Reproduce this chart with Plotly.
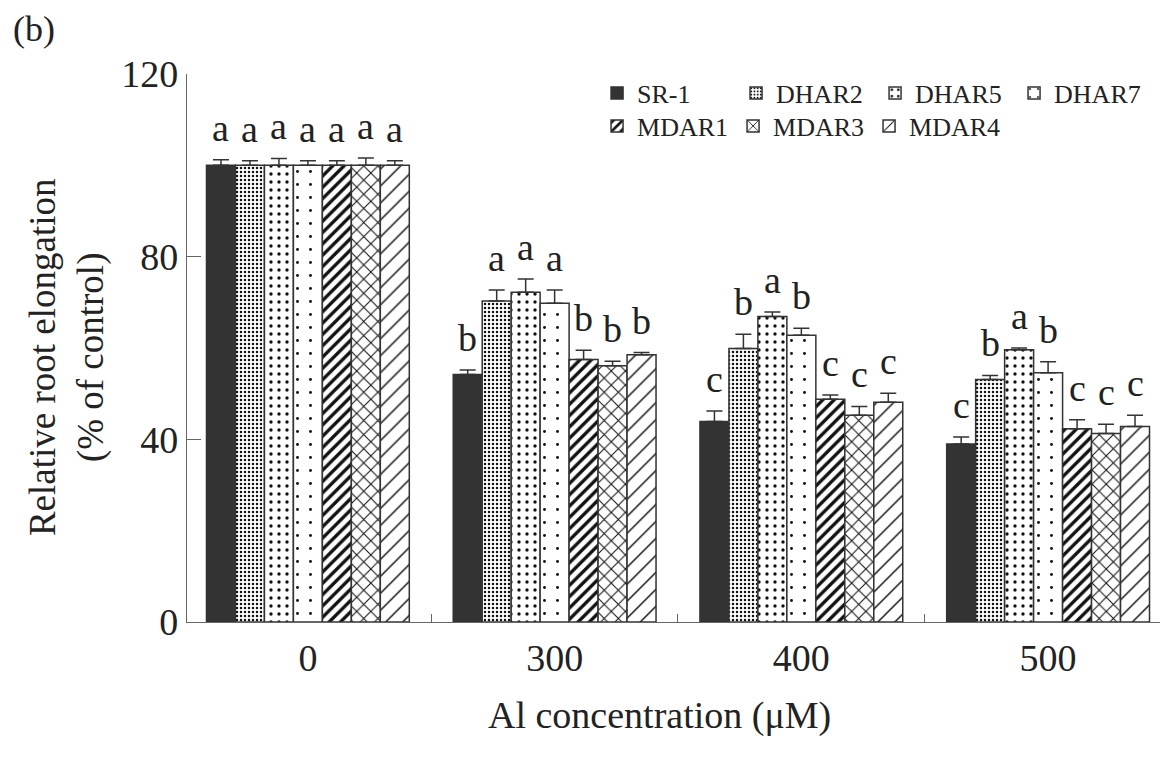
import plotly.graph_objects as go

categories = ["0", "300", "400", "500"]
series_names = ["SR-1", "DHAR2", "DHAR5", "DHAR7", "MDAR1", "MDAR3", "MDAR4"]

sr1 = [100, 54.2, 43.9, 39.0]
dhar2 = [100, 70.3, 59.9, 53.1]
dhar5 = [100, 72.2, 66.9, 59.6]
dhar7 = [100, 69.8, 62.8, 54.6]
mdar1 = [100, 57.5, 48.8, 42.3]
mdar3 = [100, 56.1, 45.3, 41.3]
mdar4 = [100, 58.5, 48.1, 42.8]

sr1_err = [1.2, 1.0, 2.3, 1.5]
dhar2_err = [1.0, 2.4, 3.1, 0.9]
dhar5_err = [1.5, 2.9, 1.0, 0.4]
dhar7_err = [1.0, 2.9, 1.5, 2.4]
mdar1_err = [1.0, 2.0, 0.9, 2.0]
mdar3_err = [1.6, 1.0, 1.9, 2.0]
mdar4_err = [1.0, 0.5, 2.0, 2.5]

sr1_lab = ["a", "b", "c", "c"]
dhar2_lab = ["a", "a", "b", "b"]
dhar5_lab = ["a", "a", "a", "a"]
dhar7_lab = ["a", "a", "b", "b"]
mdar1_lab = ["a", "b", "c", "c"]
mdar3_lab = ["a", "b", "c", "c"]
mdar4_lab = ["a", "b", "c", "c"]

y_ticks = [0, 40, 80, 120]

values = [sr1, dhar2, dhar5, dhar7, mdar1, mdar3, mdar4]
errors = [sr1_err, dhar2_err, dhar5_err, dhar7_err, mdar1_err, mdar3_err, mdar4_err]
labels = [sr1_lab, dhar2_lab, dhar5_lab, dhar7_lab, mdar1_lab, mdar3_lab, mdar4_lab]

FONT = "Liberation Serif, Times New Roman, serif"
INK = "#222222"
EDGE = "#333333"

patterns = [
    dict(shape="", fgcolor=EDGE, bgcolor="#333333"),
    dict(shape=".", size=4, solidity=0.3, fgcolor="#111111", bgcolor="white", fgopacity=1),
    dict(shape=".", size=8, solidity=0.14, fgcolor="#111111", bgcolor="white", fgopacity=1),
    dict(shape=".", size=13, solidity=0.04, fgcolor="#111111", bgcolor="white", fgopacity=1),
    dict(shape="/", size=8, solidity=0.42, fgcolor="#111111", bgcolor="white", fgopacity=1),
    dict(shape="x", size=10, solidity=0.2, fgcolor="#111111", bgcolor="white", fgopacity=1),
    dict(shape="/", size=12, solidity=0.12, fgcolor="#111111", bgcolor="white", fgopacity=1),
]
fills = ["#333333"] + ["white"] * 6

BARGAP = 0.178
n = len(series_names)

fig = go.Figure()
for i, name in enumerate(series_names):
    fig.add_trace(go.Bar(
        name=name,
        x=categories,
        y=values[i],
        marker=dict(color=fills[i], pattern=patterns[i],
                    line=dict(color=EDGE, width=1.5)),
        error_y=dict(type="data", symmetric=False, array=errors[i],
                     arrayminus=[0] * len(categories),
                     color=EDGE, thickness=1.5, width=8),
        legend="legend" if i < 4 else "legend2",
    ))

annotations = []
w = (1 - BARGAP) / n
for i in range(n):
    for c in range(len(categories)):
        annotations.append(dict(
            x=c + (i - (n - 1) / 2) * w, xref="x",
            y=values[i][c] + errors[i][c], yref="y",
            text=labels[i][c], showarrow=False,
            yanchor="bottom", yshift=9,
            font=dict(family=FONT, size=38, color=INK),
        ))

annotations.append(dict(
    x=-0.179, y=1.082, xref="paper", yref="paper", text="(b)",
    showarrow=False, xanchor="left", yanchor="middle",
    font=dict(family=FONT, size=36, color=INK)))
annotations.append(dict(
    x=0.482, y=-0.170, xref="paper", yref="paper",
    text="Al concentration (μM)", showarrow=False,
    xanchor="center", yanchor="middle",
    font=dict(family=FONT, size=38, color=INK)))
annotations.append(dict(
    x=-0.123, y=0.484, xref="paper", yref="paper",
    text="Relative root elongation<br>(% of control)", showarrow=False,
    textangle=-90, xanchor="center", yanchor="middle",
    font=dict(family=FONT, size=37, color=INK)))

fig.update_layout(
    width=1168, height=760,
    margin=dict(l=179, r=8, t=66, b=146),
    paper_bgcolor="white", plot_bgcolor="white",
    barmode="group", bargap=BARGAP, bargroupgap=0,
    annotations=annotations,
    font=dict(family=FONT, color=INK),
    legend=dict(orientation="h", x=0.418, y=1.008, xanchor="left",
                yanchor="top", entrywidth=94,
                font=dict(family=FONT, size=26, color=INK),
                bgcolor="rgba(0,0,0,0)", traceorder="normal"),
    legend2=dict(orientation="h", x=0.418, y=0.948, xanchor="left",
                 yanchor="top", entrywidth=91,
                 font=dict(family=FONT, size=26, color=INK),
                 bgcolor="rgba(0,0,0,0)", traceorder="normal"),
    xaxis=dict(range=[-0.49, 3.486], showline=True, linecolor="#666666",
               linewidth=1.2, ticks="inside", tickson="boundaries",
               ticklen=8, tickcolor="#666666", showgrid=False,
               tickfont=dict(family=FONT, size=38, color=INK),
               ticklabelstandoff=2),
    yaxis=dict(range=[0, 120], tickvals=y_ticks, showline=True,
               linecolor="#666666", linewidth=1.2, ticks="inside",
               ticklen=14, tickcolor="#666666", showgrid=False,
               zeroline=False,
               tickfont=dict(family=FONT, size=38, color=INK),
               ticklabelstandoff=0),
)

fig.write_html("out.html")
